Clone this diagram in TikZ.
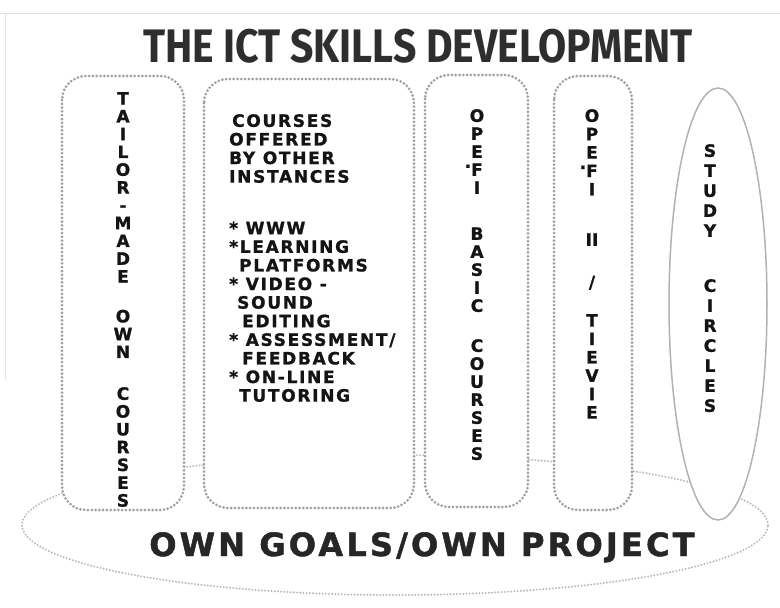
\documentclass[tikz,border=0pt]{standalone}
\usepackage{graphicx}
\usepackage{fontspec}
\setmainfont{DejaVu Sans}
\newfontfamily\titlefont{Fira Sans}
\newfontfamily\capsfont[BoldFeatures={FakeBold=1.2}]{DejaVu Sans}
\newfontfamily\widecaps[LetterSpace=10,BoldFeatures={FakeBold=1.2}]{DejaVu Sans}
\newfontfamily\goalfont[LetterSpace=10,BoldFeatures={FakeBold=1.5}]{DejaVu Sans}
\definecolor{ink}{HTML}{141414}
\definecolor{dots}{HTML}{A0A0A0}

\begin{document}
\begin{tikzpicture}[x=1pt,y=-1pt,
    dotbox/.style={draw=dots,line width=3pt,dash pattern=on 0pt off 3.8pt,line cap=round,fill=white,rounded corners=24pt},
    goalline/.style={draw=gray!55,line width=2.2pt,dash pattern=on 0pt off 3.2pt,line cap=round},
    letterstack/.style={inner sep=0pt,anchor=north,align=center,text=ink,font=\capsfont\bfseries\fontsize{17}{#1}\selectfont}]
\useasboundingbox (0,0) rectangle (780,608);
\draw[color=gray!25] (0,13) -- (780,13); \draw[color=gray!20] (5,13) -- (5,380);

% own goals ellipse, behind everything
\draw[goalline] (395,525) ellipse [x radius=373pt, y radius=70pt];

% the four course boxes and the study circle
\draw[dotbox] (62,76) rectangle (184,510);
\draw[dotbox] (204,79) rectangle (414,508);
\draw[dotbox] (425,75) rectangle (528,507);
\draw[dotbox] (554,76) rectangle (632,510);
\draw[draw=gray!60,line width=1.5pt,fill=white] (718,304) ellipse [x radius=49pt, y radius=216pt];

\node[anchor=base,inner sep=0pt,text=black!82,font=\titlefont\bfseries\fontsize{47}{47}\selectfont] (title) at (418,62) {\scalebox{0.87}[1]{THE ICT SKILLS DEVELOPMENT}};

\node[letterstack=17.8] (tailor) at (123,92) {T\\A\\I\\L\\O\\R\\-\\M\\A\\D\\E\\[22pt]O\\W\\N\\[24pt]C\\O\\U\\R\\S\\E\\S};
\node[inner sep=0pt,anchor=north west,align=left,text=ink,font=\widecaps\bfseries\fontsize{17}{18.6}\selectfont] (others) at (229,114)
  {\hspace{3pt}COURSES\\OFFERED\\BY OTHER\\INSTANCES\\[33pt]* WWW\\*LEARNING\\\hspace{10pt}PLATFORMS\\* VIDEO -\\\hspace{8pt}SOUND\\\hspace{13pt}EDITING\\* ASSESSMENT/\\\hspace{13pt}FEEDBACK\\* ON-LINE\\\hspace{10pt}TUTORING};
\node[letterstack=18] (basic) at (477,109) {O\\P\\E\\\llap{\raisebox{8pt}{.}}F\\I\\[28pt]B\\A\\S\\I\\C\\[22pt]C\\O\\U\\R\\S\\E\\S};
\node[letterstack=18.4] (tievie) at (592,109) {O\\P\\E\\\llap{\raisebox{8pt}{.}}F\\I\\[32pt]II\\[24pt]/\\[20pt]T\\I\\E\\V\\I\\E};
\node[letterstack=20] (study) at (710,144) {S\\T\\U\\D\\Y\\[35pt]C\\I\\R\\C\\L\\E\\S};

\node[anchor=base,inner sep=0pt,text=black!85,font=\goalfont\bfseries\fontsize{32}{32}\selectfont] (goals) at (422,556) {OWN GOALS/OWN PROJECT};
\end{tikzpicture}
\end{document}
